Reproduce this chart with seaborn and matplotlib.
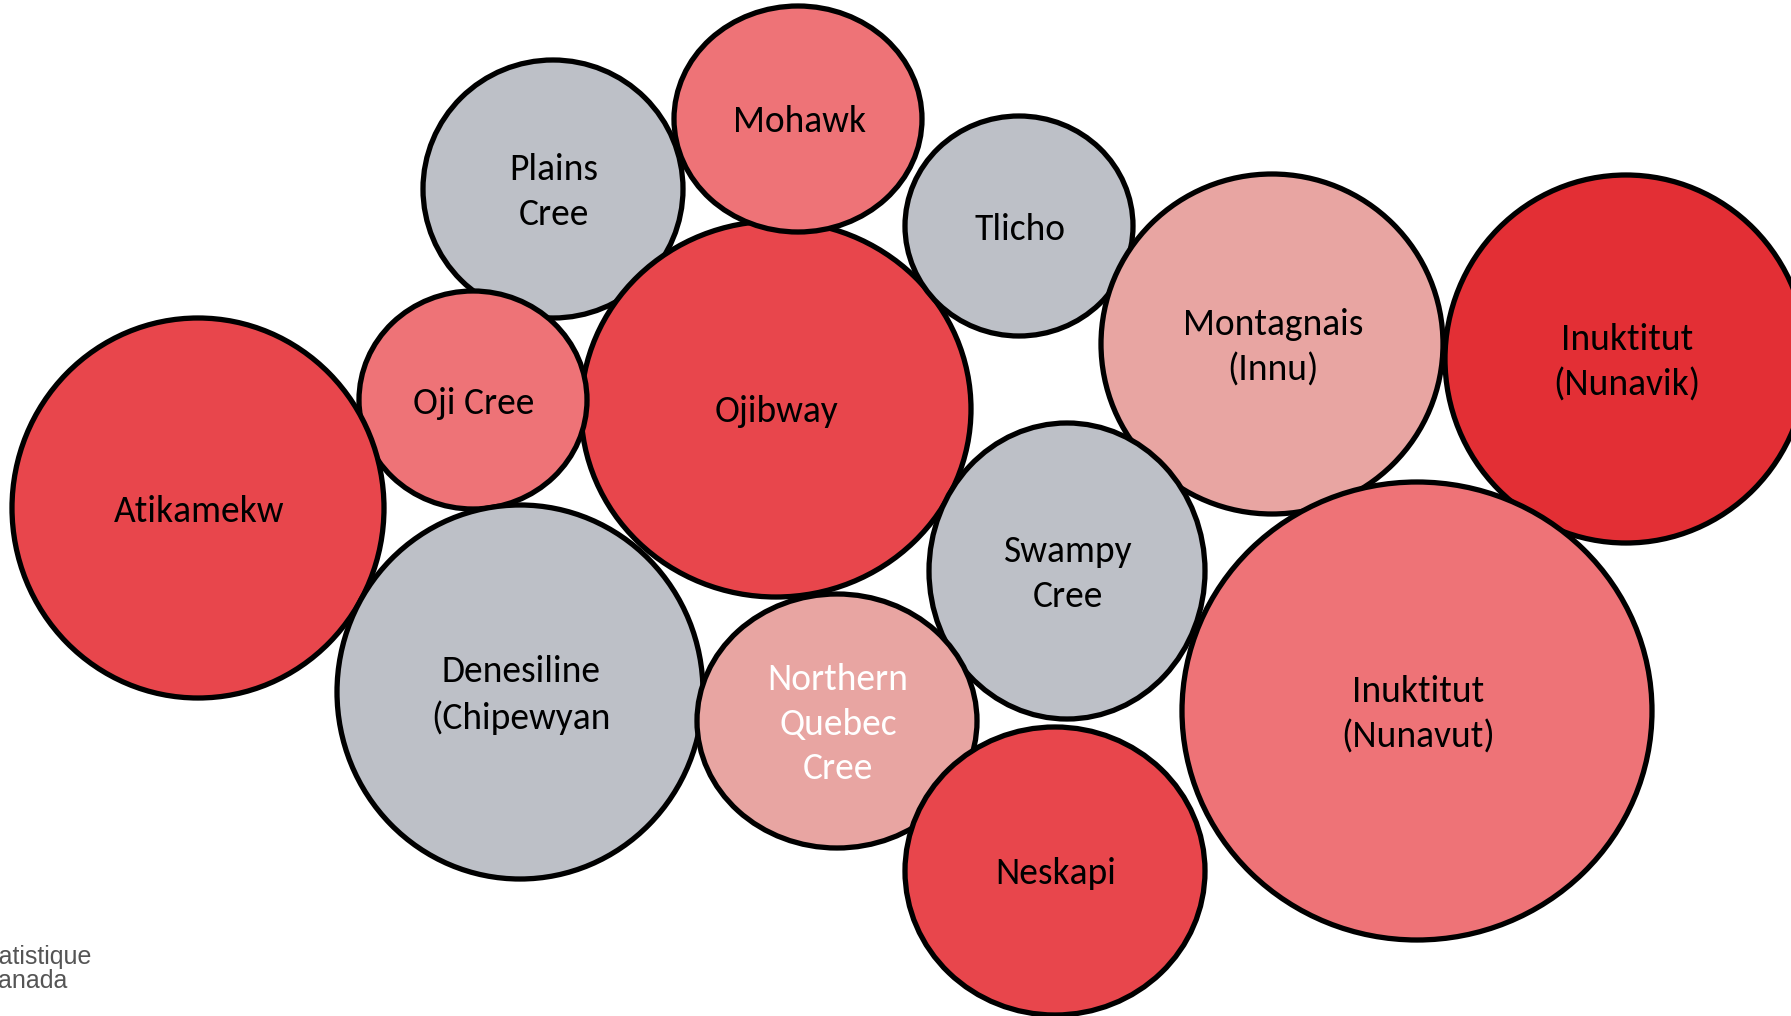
import matplotlib.pyplot as plt
import seaborn as sns
from matplotlib.patches import Ellipse

# bubble data (pixel space of the original slide)
languages = ['Plains\nCree', 'Ojibway', 'Mohawk', 'Oji Cree', 'Tlicho',
             'Montagnais\n(Innu)', 'Inuktitut\n(Nunavik)', 'Atikamekw',
             'Denesiline\n(Chipewyan', 'Swampy\nCree', 'Northern\nQuebec\nCree',
             'Neskapi', 'Inuktitut\n(Nunavut)']
x_center = [553, 776, 798, 473, 1019, 1272, 1626, 198, 520, 1067, 837, 1055, 1417]
y_center = [189, 409, 119, 400, 226, 344, 359, 508, 692, 571, 721, 871, 711]
width = [260, 390, 248, 228, 228, 342, 362, 372, 366, 276, 280, 300, 470]
height = [258, 376, 226, 218, 220, 340, 368, 380, 374, 296, 254, 288, 458]
group = ['grey', 'red', 'light', 'light', 'grey', 'pink', 'dark', 'red',
         'grey', 'grey', 'pink', 'red', 'light']

palette = {'grey': '#bdc0c7', 'red': '#e8464c', 'light': '#ee7377',
           'pink': '#e8a5a2', 'dark': '#e32f35'}

sns.set_theme(style='white')
plt.rcParams['font.family'] = ['Carlito', 'Lato', 'DejaVu Sans']

fig = plt.figure(figsize=(17.91, 10.16), dpi=100)
ax = fig.add_axes([0, 0, 1, 1])
ax.set_xlim(0, 1791)
ax.set_ylim(1016, 0)
ax.axis('off')

for i, lang in enumerate(languages):
    ax.add_patch(Ellipse((x_center[i], y_center[i]), width[i], height[i],
                         facecolor=palette[group[i]], edgecolor='black',
                         linewidth=3.8, zorder=i + 1))
    txt_color = 'white' if lang.startswith('Northern') else 'black'
    ax.text(x_center[i] + 1, y_center[i] + 3, lang, ha='center', va='center',
            multialignment='center', fontsize=27, color=txt_color,
            linespacing=1.42, zorder=50)

# logo text, cut at the left edge like the source slide
ax.text(-24, 957, 'Statistique', fontsize=18, color='#555555',
        family=['Liberation Sans', 'DejaVu Sans'], ha='left', va='center')
ax.text(-19, 981, 'Canada', fontsize=18, color='#555555',
        family=['Liberation Sans', 'DejaVu Sans'], ha='left', va='center')

fig.savefig('out.png', dpi=100)
